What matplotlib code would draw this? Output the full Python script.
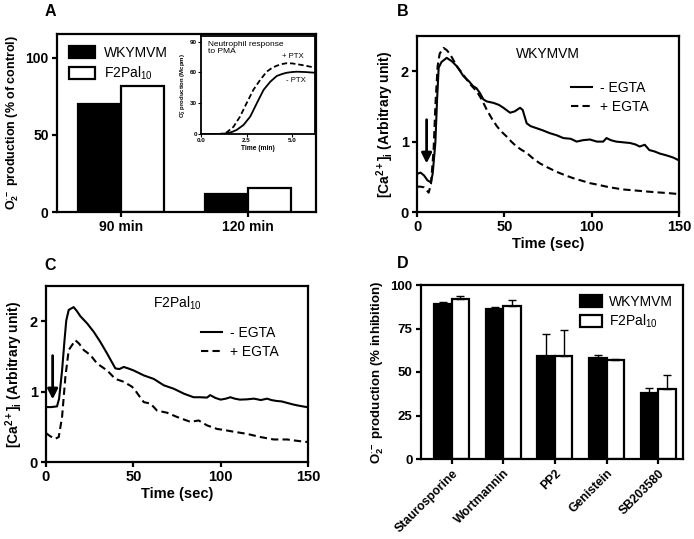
import matplotlib
matplotlib.use("Agg")
import matplotlib.pyplot as plt
from matplotlib.patches import Patch
import numpy as np

plt.rcParams['font.family'] = ['Liberation Sans', 'DejaVu Sans']
plt.rcParams['mathtext.fontset'] = 'custom'
plt.rcParams['mathtext.rm'] = 'Liberation Sans'
plt.rcParams['mathtext.bf'] = 'Liberation Sans:bold'
plt.rcParams['mathtext.it'] = 'Liberation Sans:italic'

# ---------------- DATA ----------------
# Panel A
a_categories = ['90 min', '120 min']
a_wkymvm = [70, 11.5]
a_f2pal = [82, 15.5]

# Inset (neutrophil response to PMA)
inset_t_plus = [0.0, 0.5, 1.0, 1.2, 1.41, 1.78, 2.14, 2.5, 2.87, 3.24, 3.6, 3.9, 4.15, 4.45, 4.7, 5.0, 5.26, 5.6, 5.99, 6.25]
inset_plus = [0, 0, 0, 0.5, 1.6, 7, 17, 30, 43, 52.6, 60.7, 64.5, 66.5, 68.2, 69, 68.8, 68, 67, 65.6, 64.6]
inset_t_minus = [0.0, 0.5, 1.0, 1.41, 1.7, 1.96, 2.33, 2.7, 3.06, 3.43, 3.8, 4.15, 4.45, 4.7, 5.0, 5.26, 5.7, 6.25]
inset_minus = [0, 0, 0, 0.6, 2, 4, 8.8, 17, 30, 43, 51, 56.5, 58.5, 59.7, 60.4, 60.7, 60.4, 59.7]

# Panel B (WKYMVM)
b_t_solid = [0, 2, 4, 6, 8, 9, 10.5, 11.5, 12.4, 14, 17, 20, 22.8, 26.6, 30, 32, 34, 36, 38, 40, 43.8, 47, 49.5, 53.3, 56, 59, 60.5, 62.8, 65, 68.5, 72, 76, 80, 83.8, 88, 91.4, 95, 99, 103, 106.6, 108.5, 111, 114, 118, 122, 125, 127.5, 130.4, 133, 136, 139, 142, 144.7, 147, 149.4, 150]
b_solid = [0.54, 0.56, 0.52, 0.45, 0.42, 0.55, 0.98, 1.6, 2.05, 2.13, 2.19, 2.14, 2.07, 1.93, 1.85, 1.79, 1.76, 1.69, 1.6, 1.57, 1.55, 1.52, 1.48, 1.41, 1.43, 1.48, 1.45, 1.26, 1.22, 1.19, 1.16, 1.12, 1.09, 1.05, 1.04, 1.0, 1.02, 1.03, 1.0, 1.0, 1.05, 1.02, 1.0, 0.99, 0.98, 0.96, 0.93, 0.955, 0.88, 0.86, 0.83, 0.81, 0.79, 0.77, 0.74, 0.74]
b_t_dash = [0, 2, 4, 5.5, 6.7, 8, 9.5, 10.5, 11.8, 13, 15.2, 17, 19, 22.8, 25, 28.5, 31, 34.3, 37, 40, 43, 45.7, 48, 51.4, 54, 57, 60, 62.8, 66, 70.4, 75, 80, 85, 89.5, 95, 99, 104, 108.5, 113, 118, 123, 127.5, 132, 137, 143, 149.4, 150]
b_dash = [0.36, 0.36, 0.35, 0.31, 0.275, 0.4, 0.88, 1.5, 2.07, 2.25, 2.33, 2.3, 2.24, 2.07, 2.0, 1.88, 1.8, 1.71, 1.6, 1.45, 1.32, 1.22, 1.15, 1.07, 1.0, 0.93, 0.88, 0.84, 0.77, 0.69, 0.63, 0.57, 0.52, 0.48, 0.44, 0.41, 0.385, 0.36, 0.34, 0.32, 0.31, 0.30, 0.29, 0.28, 0.27, 0.256, 0.255]

# Panel C (F2Pal10)
c_t_solid = [0, 3, 6.3, 7.5, 9.2, 10.5, 11.6, 13, 15.8, 17.5, 19.7, 23.5, 27.3, 31, 35, 39.7, 42, 44.5, 47, 50.2, 56, 61.7, 67.4, 73.2, 79, 84.5, 88, 92.2, 94, 97, 100, 103, 105.6, 108, 111, 115, 119, 123, 126.6, 129, 132, 135, 138, 141, 143.7, 147, 149.4, 150]
c_solid = [0.78, 0.78, 0.79, 0.9, 1.30, 1.7, 2.01, 2.16, 2.2, 2.15, 2.07, 1.97, 1.85, 1.71, 1.54, 1.33, 1.32, 1.35, 1.33, 1.30, 1.23, 1.18, 1.09, 1.04, 0.97, 0.92, 0.92, 0.915, 0.95, 0.91, 0.886, 0.9, 0.92, 0.9, 0.886, 0.89, 0.90, 0.88, 0.90, 0.88, 0.867, 0.86, 0.84, 0.82, 0.805, 0.79, 0.78, 0.77]
c_t_dash = [0, 2.5, 5.3, 7.3, 9.2, 11.1, 13, 16.8, 19, 21.6, 25.4, 29.2, 35, 39.7, 44.5, 49.2, 51, 53, 56, 59.8, 63.6, 69.3, 75, 82.7, 87.4, 92.2, 97.9, 103, 107.5, 115, 122.7, 130.3, 138, 144, 149.4, 150]
c_dash = [0.41, 0.365, 0.33, 0.355, 0.64, 1.21, 1.59, 1.73, 1.68, 1.59, 1.52, 1.40, 1.30, 1.18, 1.14, 1.07, 1.02, 0.95, 0.85, 0.83, 0.73, 0.70, 0.64, 0.57, 0.59, 0.52, 0.47, 0.45, 0.43, 0.40, 0.355, 0.32, 0.32, 0.30, 0.285, 0.28]

# Panel D
d_categories = ['Staurosporine', 'Wortmannin', 'PP2', 'Genistein', 'SB203580']
d_wkymvm = [88.9, 86.2, 59.0, 57.8, 37.7]
d_wkymvm_err = [1.5, 1.3, 12.8, 2.0, 2.9]
d_f2pal = [92.0, 88.1, 59.4, 56.9, 40.0]
d_f2pal_err = [1.9, 3.1, 14.7, 0.3, 8.3]

# ---------------- FIGURE ----------------
W, H = 694, 539
fig = plt.figure(figsize=(W / 100, H / 100), dpi=100)


def rect(l, t, r, b):
    return [l / W, 1 - b / H, (r - l) / W, (b - t) / H]


SPW = 1.6


def style(ax, fs=10):
    for s in ax.spines.values():
        s.set_linewidth(SPW)
    ax.tick_params(direction='out', length=3.5, width=SPW, labelsize=fs, pad=2.5, top=False, right=False)
    for lab in ax.get_xticklabels() + ax.get_yticklabels():
        lab.set_fontweight('bold')


# ---- Panel A ----
axA = fig.add_axes(rect(57, 34, 316, 212))
xa = np.arange(len(a_categories))
bw = 0.34
axA.bar(xa - bw / 2, a_wkymvm, bw, color='black', edgecolor='black', linewidth=1.6)
axA.bar(xa + bw / 2, a_f2pal, bw, color='white', edgecolor='black', linewidth=1.6)
axA.set_xlim(-0.504, 1.535)
axA.set_ylim(0, 115.5)
axA.set_yticks([0, 50, 100])
axA.set_xticks(xa)
axA.set_xticklabels(a_categories)
style(axA, 10)
axA.set_ylabel(r'O$_\mathbf{2}^{\mathbf{\cdot -}}$ production (% of control)', fontsize=9, fontweight='bold', labelpad=3)
axA.legend(handles=[Patch(facecolor='black', edgecolor='black', linewidth=1.6, label='WKYMVM'),
                    Patch(facecolor='white', edgecolor='black', linewidth=1.6, label=r'F2Pal$_{10}$')],
           loc='upper left', bbox_to_anchor=(0.0, 1.0), frameon=False, fontsize=10,
           handlelength=1.9, handleheight=0.9, handletextpad=0.6, labelspacing=0.35, borderaxespad=0.45)
fig.text(50 / W, 1 - 11 / H, 'A', fontsize=11.5, fontweight='bold', ha='center', va='center')

# Inset
axI = fig.add_axes(rect(201, 36, 315, 134))
axI.plot(inset_t_plus, inset_plus, color='black', lw=1.3, ls=(0, (3, 1.6)))
axI.plot(inset_t_minus, inset_minus, color='black', lw=1.3)
axI.set_xlim(0, 6.25)
axI.set_ylim(0, 95.5)
axI.set_xticks([0, 2.5, 5.0])
axI.set_xticklabels(['0.0', '2.5', '5.0'])
axI.set_yticks([0, 30, 60, 90])
for s in axI.spines.values():
    s.set_linewidth(1.3)
axI.tick_params(direction='out', length=2, width=0.8, labelsize=4.5, pad=1, top=False, right=False)
for lab in axI.get_xticklabels() + axI.get_yticklabels():
    lab.set_fontweight('bold')
axI.set_xlabel('Time (min)', fontsize=4.8, fontweight='bold', labelpad=1)
axI.set_ylabel(r'O$_\mathbf{2}^{\mathbf{-}}$ production (Mcpm)', fontsize=4.3, fontweight='bold', labelpad=1)
axI.text(0.4, 91, 'Neutrophil response\nto PMA', fontsize=6, va='top', ha='left', linespacing=1.0)
axI.text(4.45, 72.5, '+ PTX', fontsize=5.6, va='bottom', ha='left')
axI.text(4.65, 56, '- PTX', fontsize=5.6, va='top', ha='left')

# ---- Panel B ----
axB = fig.add_axes(rect(417, 36, 679, 212))
axB.plot(b_t_solid, b_solid, color='black', lw=1.5, label='- EGTA')
axB.plot(b_t_dash, b_dash, color='black', lw=1.5, ls=(0, (3.5, 2)), label='+ EGTA')
axB.set_xlim(0, 150)
axB.set_ylim(0, 2.5)
axB.set_xticks([0, 50, 100, 150])
axB.set_yticks([0, 1, 2])
style(axB, 10.5)
axB.set_xlabel('Time (sec)', fontsize=10.5, fontweight='bold', labelpad=2)
axB.set_ylabel(r'[Ca$^{\mathbf{2+}}$]$_\mathbf{i}$ (Arbitrary unit)', fontsize=10, fontweight='bold', labelpad=3)
axB.text(0.5, 0.90, 'WKYMVM', transform=axB.transAxes, fontsize=10, ha='center', va='center')
axB.legend(loc='upper right', bbox_to_anchor=(0.95, 0.84), frameon=False, fontsize=10,
           handlelength=1.5, handletextpad=0.6, labelspacing=0.35, borderaxespad=0.8)
axB.annotate('', xy=(5.5, 0.65), xytext=(5.5, 1.35),
             arrowprops=dict(arrowstyle='-|>,head_length=0.6,head_width=0.3', color='black', lw=2))
fig.text(403 / W, 1 - 11 / H, 'B', fontsize=11.5, fontweight='bold', ha='center', va='center')

# ---- Panel C ----
axC = fig.add_axes(rect(46, 286, 308, 462))
axC.plot(c_t_solid, c_solid, color='black', lw=1.5, label='- EGTA')
axC.plot(c_t_dash, c_dash, color='black', lw=1.5, ls=(0, (3.5, 2)), label='+ EGTA')
axC.set_xlim(0, 150)
axC.set_ylim(0, 2.5)
axC.set_xticks([0, 50, 100, 150])
axC.set_yticks([0, 1, 2])
style(axC, 10.5)
axC.set_xlabel('Time (sec)', fontsize=10.5, fontweight='bold', labelpad=2)
axC.set_ylabel(r'[Ca$^{\mathbf{2+}}$]$_\mathbf{i}$ (Arbitrary unit)', fontsize=10, fontweight='bold', labelpad=3)
axC.text(0.5, 0.9, r'F2Pal$_{10}$', transform=axC.transAxes, fontsize=10, ha='center', va='center')
axC.legend(loc='upper right', bbox_to_anchor=(0.92, 0.82), frameon=False, fontsize=10,
           handlelength=1.5, handletextpad=0.6, labelspacing=0.35, borderaxespad=0.2)
axC.annotate('', xy=(3.8, 0.85), xytext=(3.8, 1.55),
             arrowprops=dict(arrowstyle='-|>,head_length=0.6,head_width=0.3', color='black', lw=2))
fig.text(50 / W, 1 - 265 / H, 'C', fontsize=11.5, fontweight='bold', ha='center', va='center')

# ---- Panel D ----
axD = fig.add_axes(rect(421, 285, 683, 459))
xd = np.arange(len(d_categories))
bwd = 0.34
axD.bar(xd - bwd / 2, d_wkymvm, bwd, color='black', edgecolor='black', linewidth=1.6,
        yerr=[np.zeros(len(xd)), d_wkymvm_err], error_kw=dict(ecolor='black', elinewidth=1.0, capsize=3, capthick=1.0),
        label='WKYMVM')
axD.bar(xd + bwd / 2, d_f2pal, bwd, color='white', edgecolor='black', linewidth=1.6,
        yerr=[np.zeros(len(xd)), d_f2pal_err], error_kw=dict(ecolor='black', elinewidth=1.0, capsize=3, capthick=1.0),
        label=r'F2Pal$_{10}$')
axD.set_xlim(-0.594, 4.48)
axD.set_ylim(0, 100)
axD.set_yticks([0, 25, 50, 75, 100])
axD.set_xticks(xd)
axD.set_xticklabels(d_categories, rotation=45, ha='right', rotation_mode='anchor')
style(axD, 9.5)
for lab in axD.get_xticklabels():
    lab.set_fontsize(8.8)
axD.set_ylabel(r'O$_\mathbf{2}^{\mathbf{\cdot -}}$ production (% inhibition)', fontsize=9.5, fontweight='bold', labelpad=3)
axD.legend(loc='upper right', bbox_to_anchor=(1.0, 1.0), frameon=False, fontsize=10,
           handlelength=1.6, handleheight=0.9, handletextpad=0.5, labelspacing=0.3, borderaxespad=0.3)
fig.text(403 / W, 1 - 263 / H, 'D', fontsize=11.5, fontweight='bold', ha='center', va='center')

fig.savefig('out.png', dpi=100)
